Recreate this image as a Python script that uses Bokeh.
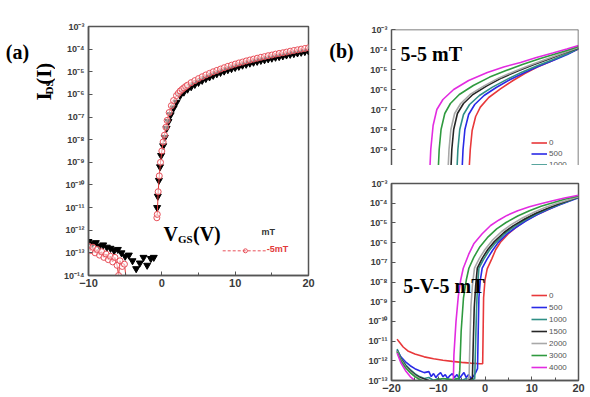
import math
from bokeh.plotting import figure
from bokeh.layouts import row, column
from bokeh.models import (Range1d, FixedTicker, CustomJSTickFormatter, Label,
                          Legend, LegendItem, Span)
from bokeh.embed import file_html
from bokeh.resources import INLINE

# ---------------- panel (a): transfer curve, log10(I_DS) vs V_GS ----------------
a_tri_v = [-10.0, -9.5, -9.0, -8.5, -8.0, -7.5, -7.0, -6.5, -6.0, -5.5, -5.0, -4.5, -4.0,
           -3.5, -3.0, -2.5, -2.0, -1.5, -1.1,
           -0.64, -0.55, -0.4, -0.25, -0.1, 0.18, 0.4, 0.65, 0.9, 1.2, 1.6, 2.0,
           2.5, 3.0, 3.5, 4.0, 4.5, 5.0, 5.5, 6.0, 6.5, 7.0, 7.5, 8.0, 8.5, 9.0, 9.5, 10.0,
           10.5, 11.0, 11.5, 12.0, 12.5, 13.0, 13.5, 14.0, 14.5, 15.0, 15.5, 16.0, 16.5,
           17.0, 17.5, 18.0, 18.5, 19.0, 19.5, 20.0]
a_tri_log = [-12.5, -12.6, -12.55, -12.7, -12.65, -12.75, -12.8, -12.9, -12.85, -13.0, -13.15,
             -13.1, -13.35, -13.7, -13.45, -13.2, -13.55, -13.25, -13.2,
             -11.0, -10.5, -9.8, -9.2, -8.7, -8.27, -7.9, -7.5, -7.2, -6.9, -6.6, -6.35,
             -6.05, -5.9, -5.77, -5.66, -5.56, -5.47, -5.38, -5.3, -5.23, -5.16, -5.09, -5.03,
             -4.97, -4.91, -4.86, -4.81, -4.76, -4.71, -4.67, -4.62, -4.58, -4.54, -4.5, -4.47,
             -4.43, -4.4, -4.36, -4.33, -4.3, -4.26, -4.23, -4.2, -4.17, -4.14, -4.11, -4.08]

# open-circle series: off-state scan, then the turn-on branch
a_off_v = [-10.0, -9.7, -9.4, -9.1, -8.8, -8.5, -8.2, -7.9, -7.6, -7.3, -7.0, -6.7, -6.4,
           -6.1, -5.9, -5.7, -5.4, -5.1, -4.8]
a_off_log = [-12.7, -12.9, -12.75, -13.0, -12.85, -13.1, -12.95, -13.2, -13.05, -13.3, -13.15,
             -13.4, -13.2, -13.55, -14.0, -13.35, -13.6, -13.5, -14.3]
a_on_v = [-0.68, -0.62, -0.5, -0.35, -0.18, 0.0, 0.18, 0.36, 0.55, 0.72, 1.0, 1.3, 1.6, 2.0,
          2.25, 2.5, 2.75, 3.0, 3.25, 3.5, 4.0, 4.5, 5.0, 5.5, 6.0, 6.5, 7.0, 7.5, 8.0, 8.5,
          9.0, 9.5, 10.0, 10.5, 11.0, 11.5, 12.0, 12.5, 13.0, 13.5, 14.0, 14.5, 15.0, 15.5,
          16.0, 16.5, 17.0, 17.5, 18.0, 18.5, 19.0, 19.5, 20.0]
a_on_log = [-11.45, -11.3, -10.3, -9.6, -9.0, -8.5, -8.1, -7.8, -7.45, -7.15, -6.8, -6.5,
            -6.27, -6.05, -5.95, -5.85, -5.78, -5.71, -5.65, -5.59, -5.48, -5.39, -5.3, -5.22,
            -5.14, -5.07, -5.0, -4.94, -4.88, -4.82, -4.76, -4.71, -4.66, -4.61, -4.57, -4.52,
            -4.48, -4.44, -4.4, -4.36, -4.33, -4.29, -4.26, -4.22, -4.19, -4.16, -4.13, -4.09,
            -4.06, -4.03, -4.0, -3.97, -3.94]

# ---------------- panel (b): field-dependent curves ----------------
fields = ["0", "500", "1000", "1500", "2000", "3000", "4000"]
colors = ["#e8383a", "#2a2ae6", "#2f8f86", "#262626", "#a8a8a8", "#2f9a3f", "#e22ce0"]

top_v_0 = [-3.4, -3.15, -2.75, -2.0, -1.0, 0.8, 3.3, 6, 8.5, 11.2, 14, 17, 20]
top_log_0 = [-10, -9.0, -8.05, -7.35, -6.88, -6.4, -5.97, -5.55, -5.2, -4.88, -4.6, -4.28, -3.97]
top_v_500 = [-4.9, -4.7, -4.3, -3.5, -2.2, -0.2, 2.4, 5.4, 8.5, 11.6, 14.8, 17.6, 20]
top_log_500 = [-10, -9.0, -8.0, -7.25, -6.75, -6.3, -5.9, -5.5, -5.15, -4.83, -4.53, -4.25, -3.96]
top_v_1000 = [-6.0, -5.8, -5.4, -4.6, -3.3, -1.2, 1.6, 4.8, 8, 11.3, 14.6, 17.5, 20]
top_log_1000 = [-10, -9.0, -8.0, -7.25, -6.75, -6.3, -5.88, -5.48, -5.12, -4.8, -4.5, -4.22, -3.95]
top_v_1500 = [-7.3, -7.1, -6.7, -5.9, -4.6, -2.6, 0.4, 3.6, 7, 10.5, 14, 17, 20]
top_log_1500 = [-10, -9.0, -8.0, -7.2, -6.7, -6.25, -5.82, -5.42, -5.07, -4.75, -4.45, -4.18, -3.92]
top_v_2000 = [-7.9, -7.7, -7.3, -6.5, -5.2, -3.2, -0.2, 3, 6.5, 10, 13.5, 17, 20]
top_log_2000 = [-10, -9.0, -8.0, -7.2, -6.7, -6.25, -5.82, -5.42, -5.07, -4.75, -4.45, -4.15, -3.9]
top_v_3000 = [-10.0, -9.8, -9.4, -8.6, -7.4, -5.5, -2.5, 1, 4.5, 8, 11.5, 15, 17.5, 20]
top_log_3000 = [-10, -9.0, -8.0, -7.2, -6.7, -6.25, -5.8, -5.38, -5.05, -4.75, -4.48, -4.22, -4.05, -3.85]
top_v_4000 = [-11.8, -11.6, -11.1, -10.3, -9.0, -6.7, -3.5, 0.5, 4, 7.6, 11, 14.5, 17.5, 20]
top_log_4000 = [-10.0, -9.0, -7.8, -7.0, -6.5, -6.0, -5.55, -5.15, -4.87, -4.65, -4.4, -4.18, -3.98, -3.8]

bot_v_0 = [-18.8, -18.5, -17.5, -16.5, -15, -13, -11, -9, -7, -5, -3, -1, -0.5,
           -0.4, -0.3, 0, 0.47, 1.5, 2.3, 3.3, 5, 6.5, 8.2, 10, 12, 14, 16, 18, 20]
bot_log_0 = [-10.9, -11.0, -11.3, -11.5, -11.65, -11.8, -11.9, -11.97, -12.03, -12.08, -12.12,
             -12.15, -12.15, -10.5, -8.8, -7.9, -7.33, -6.8, -6.35, -5.98, -5.55, -5.25, -4.96,
             -4.72, -4.48, -4.27, -4.05, -3.87, -3.7]
bot_v_500 = [-18.8, -18, -17, -16, -15, -14, -13, -12, -11.5, -11, -10.5, -10, -9.5, -9, -8.5, -8,
             -7.5, -7, -6.5, -6, -5.5, -5, -4.5, -4, -3.5, -3, -2.5, -2, -1.6, -1.45, -1.3, -1.0,
             -0.6, 0.4, 1.6, 2.8, 4.5, 6.5, 8.8, 11, 13.5, 16, 18, 20]
bot_log_500 = [-11.45, -11.8, -12.05, -12.25, -12.4, -12.5, -12.6, -12.55, -12.8, -12.65, -12.85,
               -12.7, -12.6, -12.8, -12.7, -12.9, -12.75, -12.65, -12.85, -12.7, -12.9, -12.75,
               -12.6, -12.85, -12.7, -12.9, -12.8, -12.6, -12.4, -10.5, -8.8, -7.9, -7.3, -6.85,
               -6.4, -6.0, -5.6, -5.25, -4.9, -4.6, -4.32, -4.08, -3.9, -3.72]
bot_v_1000 = [-18.8, -18, -17, -16, -15, -14, -13, -12, -11, -10, -9, -8, -7, -6, -5, -4, -3,
              -2.2, -2.0, -1.8, -1.6, -1.3, -0.3, 0.9, 2.3, 4.2, 6.2, 8.6, 11, 13.5, 16, 18, 20]
bot_log_1000 = [-11.4, -11.85, -12.2, -12.45, -12.65, -12.8, -12.9, -12.85, -13.0, -12.9, -13.05,
                -12.95, -13.05, -12.9, -13.0, -12.9, -13.0, -12.9, -11.0, -9.3, -8.2, -7.3, -6.85,
                -6.4, -6.0, -5.55, -5.2, -4.85, -4.55, -4.28, -4.05, -3.87, -3.7]
bot_v_1500 = [-18.8, -18, -17, -16, -15, -14, -12, -10, -7, -4, -2.7, -2.5, -2.3, -2.0, -1.65,
              -0.6, 0.6, 2, 4, 6, 8.5, 11, 13.5, 16, 18, 20]
bot_log_1500 = [-11.5, -11.9, -12.25, -12.5, -12.7, -12.85, -13.0, -13.1, -13.1, -13.0, -12.9,
                -11.0, -9.3, -8.2, -7.3, -6.8, -6.35, -5.95, -5.5, -5.15, -4.8, -4.5, -4.25,
                -4.02, -3.85, -3.68]
bot_v_2000 = [-18.8, -18, -17, -16, -15, -14, -12.5, -10, -7, -4, -3.4, -3.2, -3.0, -2.7, -2.25,
              -1.2, 0, 1.5, 3.5, 5.5, 8, 10.5, 13, 15.5, 18, 20]
bot_log_2000 = [-11.5, -11.95, -12.3, -12.55, -12.75, -12.9, -13.05, -13.15, -13.2, -13.1, -12.8,
                -10.8, -9.2, -8.2, -7.3, -6.8, -6.35, -5.9, -5.45, -5.1, -4.75, -4.46, -4.2,
                -4.0, -3.82, -3.67]
bot_v_3000 = [-18.8, -18, -17, -16, -15, -14, -13, -11, -9, -7, -5.6, -5.4, -5.1, -4.6, -4.0,
              -3.45, -2.4, -1.2, 0.5, 2.5, 4.5, 7, 9.5, 12, 14.5, 17, 20]
bot_log_3000 = [-11.55, -12.0, -12.35, -12.6, -12.8, -12.95, -13.05, -13.0, -12.9, -12.95, -12.9,
                -12.5, -10.5, -8.8, -7.9, -7.3, -6.75, -6.25, -5.75, -5.3, -4.98, -4.65, -4.38,
                -4.15, -3.98, -3.8, -3.63]
bot_v_4000 = [-18.8, -18, -17, -16, -15, -14, -12, -9, -7, -6.8, -6.65, -6.2, -5.7, -5.2, -4.65,
              -3.5, -2.4, -0.6, 1.2, 3, 4.7, 7, 9.5, 11.9, 14.5, 17, 20]
bot_log_4000 = [-11.6, -12.1, -12.5, -12.8, -13.0, -13.2, -13.4, -13.5, -13.5, -13.3, -11.7,
                -10.0, -8.7, -7.9, -7.3, -6.6, -6.06, -5.55, -5.13, -4.85, -4.62, -4.38, -4.18,
                -4.03, -3.88, -3.74, -3.6]

top_curves = [(top_v_0, top_log_0), (top_v_500, top_log_500), (top_v_1000, top_log_1000),
              (top_v_1500, top_log_1500), (top_v_2000, top_log_2000),
              (top_v_3000, top_log_3000), (top_v_4000, top_log_4000)]
bot_curves = [(bot_v_0, bot_log_0), (bot_v_500, bot_log_500), (bot_v_1000, bot_log_1000),
              (bot_v_1500, bot_log_1500), (bot_v_2000, bot_log_2000),
              (bot_v_3000, bot_log_3000), (bot_v_4000, bot_log_4000)]

a_xticks = [-10, 0, 10, 20]
a_xminor = [-5, 5, 15]
b_xticks = [-20, -10, 0, 10, 20]
b_xminor = [-15, -5, 5, 15]


def dec(logs):
    return [10.0 ** v for v in logs]


SANS = "Liberation Sans"
SERIF = "Liberation Serif"
AXIS_COLOR = "#555555"
H = 397

sup_fmt = CustomJSTickFormatter(code="""
const e = Math.round(Math.log10(tick));
const sup = {'-': '\u207b', '0': '\u2070', '1': '\u00b9', '2': '\u00b2', '3': '\u00b3',
             '4': '\u2074', '5': '\u2075', '6': '\u2076', '7': '\u2077', '8': '\u2078',
             '9': '\u2079'};
return '10' + String(e).split('').map(c => sup[c]).join('');
""")


def style(p, ydecades, xticks=None, xminor=None, ylabel_size="9px", xlabel_size="11px"):
    p.xgrid.visible = False
    p.ygrid.visible = False
    p.background_fill_color = "white"
    p.border_fill_color = "white"
    p.outline_line_color = AXIS_COLOR
    p.outline_line_width = 1.5
    for ax in p.yaxis:
        ax.ticker = FixedTicker(ticks=[10.0 ** k for k in ydecades])
        ax.formatter = sup_fmt
        ax.major_tick_in = 4
        ax.major_tick_out = 0
        ax.minor_tick_in = 0
        ax.minor_tick_out = 0
        ax.axis_line_color = AXIS_COLOR
        ax.axis_line_width = 1.5
        ax.major_tick_line_color = AXIS_COLOR
        ax.major_label_text_font = SANS
        ax.major_label_text_font_size = ylabel_size
        ax.major_label_text_font_style = "bold"
        ax.major_label_text_color = "#3a3a3a"
        ax.major_label_standoff = 4
    if xticks is not None:
        for ax in p.xaxis:
            ax.ticker = FixedTicker(ticks=xticks, minor_ticks=xminor)
            ax.major_tick_in = 4
            ax.major_tick_out = 0
            ax.minor_tick_in = 3
            ax.minor_tick_out = 0
            ax.axis_line_color = AXIS_COLOR
            ax.axis_line_width = 1.5
            ax.major_tick_line_color = AXIS_COLOR
            ax.minor_tick_line_color = AXIS_COLOR
            ax.major_label_text_font = SANS
            ax.major_label_text_font_size = xlabel_size
            ax.major_label_text_font_style = "bold"
            ax.major_label_text_color = "#3a3a3a"
            ax.major_label_standoff = 3


def serif_label(p, x, y, text, size, align="left", angle=0.0):
    p.add_layout(Label(x=x, y=y, text=text, text_font=SERIF, text_font_size=size,
                       text_font_style="bold", text_color="black", text_align=align,
                       text_baseline="middle", angle=angle))


def title_strip(width):
    """Blank strip whose frame spans the whole canvas, in pixel-like units (y down)."""
    s = figure(width=width, height=H, x_range=Range1d(0, width), y_range=Range1d(H, 0),
               x_axis_location=None, y_axis_location=None, output_backend="svg",
               toolbar_location=None, min_border=0)
    s.xgrid.visible = False
    s.ygrid.visible = False
    s.outline_line_color = None
    s.background_fill_color = "white"
    s.border_fill_color = "white"
    return s


# ---------------- titles to the left of panel (a) ----------------
sa = title_strip(55)
serif_label(sa, 17, 40, "(a)", "20px", align="center")
# rotated I_DS(I): base letter, subscript shifted toward the plot, then "(I)"
serif_label(sa, 43, 118, "I", "21px", angle=math.pi / 2)
serif_label(sa, 48, 108.5, "DS", "11px", angle=math.pi / 2)
serif_label(sa, 43, 93, "(I)", "21px", angle=math.pi / 2)

# ---------------- panel (a) ----------------
pa = figure(width=265, height=H, x_range=Range1d(-10, 20), y_range=Range1d(1e-14, 1e-3),
            y_axis_type="log", output_backend="svg", toolbar_location=None,
            min_border_left=33, min_border_right=12, min_border_top=26, min_border_bottom=122)
style(pa, range(-14, -2), a_xticks, a_xminor)

pa.scatter(a_tri_v, dec(a_tri_log), marker="inverted_triangle", size=7,
           fill_color="black", line_color="black")
for xs, ls in ((a_off_v, a_off_log), (a_on_v, a_on_log)):
    pa.line(xs, dec(ls), line_color="#e23a3a", line_width=1)
    pa.scatter(xs, dec(ls), marker="circle", size=6, fill_color="white", fill_alpha=0.5,
               line_color="#e8505a", line_width=1)

# V_GS(V) title inside the frame
serif_label(pa, 0.23, 10 ** -12.16, "V", "20px")
serif_label(pa, 2.2, 10 ** -12.4, "GS", "11px")
serif_label(pa, 4.25, 10 ** -12.16, "(V)", "20px")

# remains of the field legend
pa.line([8.3, 14.2], [10 ** -12.91, 10 ** -12.91], line_color="#e8505a", line_width=1,
        line_dash="3 2")
pa.scatter([11.4], [10 ** -12.91], marker="circle", size=4, fill_color=None,
           line_color="#e8505a")
pa.add_layout(Label(x=13.6, y=10 ** -12.1, text="mT", text_font=SANS, text_font_size="9px",
                    text_font_style="bold", text_color="#333333", text_baseline="middle"))
pa.add_layout(Label(x=14.3, y=10 ** -12.83, text="-5mT", text_font=SANS, text_font_size="9px",
                    text_font_style="bold", text_color="#e23a3a", text_baseline="middle"))


def legend_for(p, renderers, labels, loc, item_h):
    lg = Legend(items=[LegendItem(label=f, renderers=[r]) for f, r in zip(labels, renderers)],
                location=loc, orientation="vertical", glyph_width=16, glyph_height=item_h,
                label_height=item_h, label_standoff=2, spacing=0, padding=0, margin=0,
                border_line_color=None, background_fill_alpha=0,
                label_text_font=SANS, label_text_font_size="8px",
                label_text_color="#555555")
    p.add_layout(lg)


# ---------------- tag strip for panel (b) ----------------
sb = title_strip(40)
serif_label(sb, 21, 39, "(b)", "20px", align="center")

# ---------------- panel (b), upper: 5-5 mT ----------------
pb1 = figure(width=230, height=165, x_range=Range1d(-20, 20), y_range=Range1d(10 ** -9.8, 1e-3),
             y_axis_type="log", x_axis_location=None, output_backend="svg",
             toolbar_location=None, min_border_left=31, min_border_right=12,
             min_border_top=29, min_border_bottom=0)
style(pb1, range(-9, -2))
pb1.outline_line_color = None
pb1.add_layout(Span(location=20, dimension="height", line_color=AXIS_COLOR, line_width=1.5))
pb1.add_layout(Span(location=1e-3, dimension="width", line_color=AXIS_COLOR, line_width=1.5))
r_top = []
for (xv, lv), c in zip(top_curves, colors):
    r_top.append(pb1.line(xv, dec(lv), line_color=c, line_width=1.6))
# the panel is cropped at its foot: only the first legend rows fall inside it
legend_for(pb1, r_top[:3], fields[:3], (140, -5), 11)
serif_label(pb1, -18.1, 10 ** -4.22, "5-5 mT", "20px")

# ---------------- panel (b), lower: 5-V-5 mT ----------------
pb2 = figure(width=230, height=232, x_range=Range1d(-20, 20), y_range=Range1d(1e-13, 1e-3),
             y_axis_type="log", output_backend="svg", toolbar_location=None,
             min_border_left=31, min_border_right=12, min_border_top=18, min_border_bottom=17)
style(pb2, range(-13, -2), b_xticks, b_xminor)
r_bot = []
for (xv, lv), c in zip(bot_curves, colors):
    r_bot.append(pb2.line(xv, dec(lv), line_color=c, line_width=1.6))
legend_for(pb2, r_bot, fields, (140, 7), 12)
serif_label(pb2, -17.5, 10 ** -8.18, "5-V-5 mT", "20px")

layout = row(sa, pa, sb, column(pb1, pb2))
open("out.html", "w").write(file_html(layout, INLINE))
